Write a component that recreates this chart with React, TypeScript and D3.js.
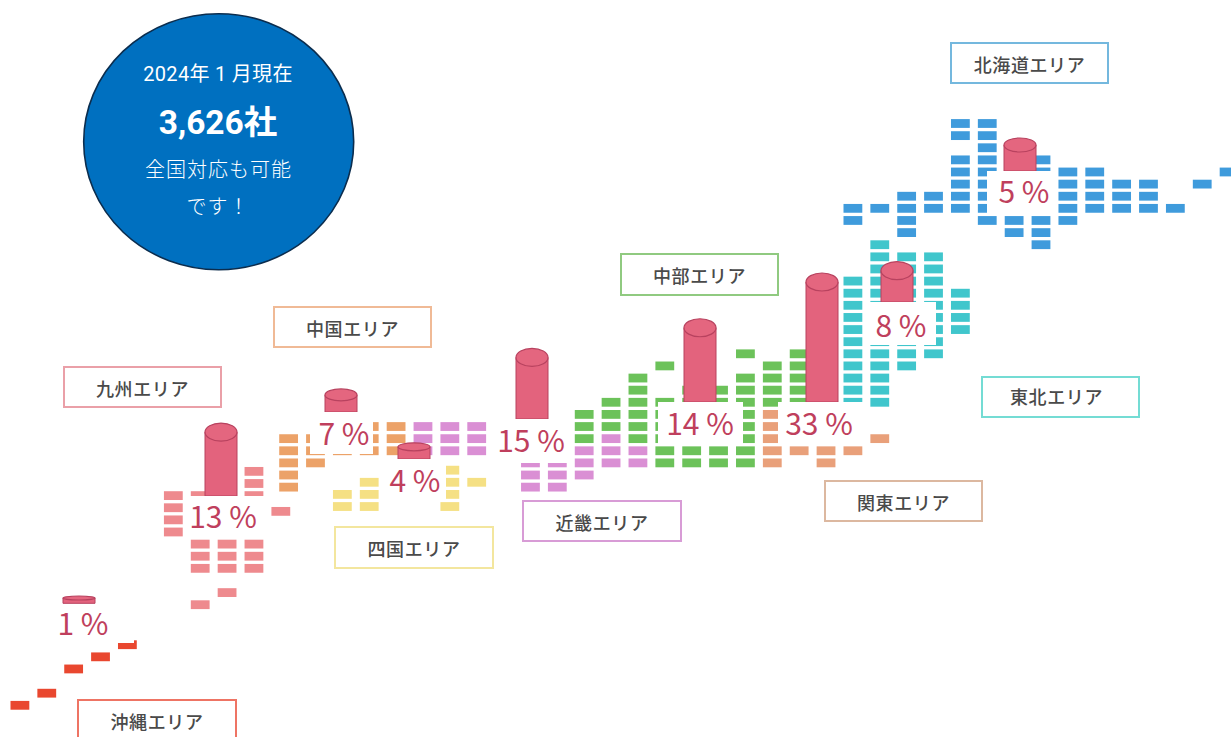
import React from "react";
import * as d3 from "d3";

// Share of registered companies by area, in percent.
const regionNames = ["北海道エリア", "東北エリア", "関東エリア", "中部エリア", "近畿エリア", "中国エリア", "四国エリア", "九州エリア", "沖縄エリア"];
const regionShares = [5, 8, 33, 14, 15, 7, 4, 13, 1];

const totalCompanies = "3,626社";
const badgeLines = ["2024年 1 月現在", "全国対応も可能", "です！"];

// Map tiles per area: [column, [rows...]] on the tile grid.
const hokkaidoTiles = [
  [31, [7, 8]], [32, [7]], [33, [6, 7, 8, 9]], [34, [6, 7]], [35, [0, 1, 3, 4, 5, 6, 7]],
  [36, [0, 1, 2, 3, 4, 5, 6, 7, 8]], [37, [3, 4, 5, 6, 7, 8, 9]], [38, [3, 4, 5, 6, 7, 8, 9, 10]],
  [39, [4, 5, 6, 7, 8]], [40, [4, 5, 6, 7]], [41, [5, 6, 7]], [42, [5, 6, 7]], [43, [7]], [44, [5]], [45, [4]],
];
const tohokuTiles = [
  [31, [13, 14, 15, 16, 17, 18, 19, 20, 21, 22, 23]],
  [32, [10, 11, 12, 13, 14, 15, 16, 17, 18, 19, 20, 21, 22, 23]],
  [33, [11, 12, 13, 14, 15, 16, 17, 18, 19, 20]],
  [34, [11, 12, 13, 14, 15, 16, 17, 18, 19]],
  [35, [14, 15, 16, 17]],
];
const kantoTiles = [
  [28, [24, 25, 26, 27, 28]], [29, [24, 25, 26, 27]], [30, [24, 25, 26, 27, 28]], [31, [24, 25, 26, 27]], [32, [26]],
];
const chubuTiles = [
  [21, [24, 25, 26]], [22, [23, 24, 25]], [23, [21, 22, 23, 24, 25, 26]],
  [24, [20, 23, 24, 25, 26, 27, 28]], [25, [22, 23, 24, 25, 26, 27, 28]], [26, [22, 23, 24, 25, 26, 27, 28]],
  [27, [19, 21, 22, 23, 24, 25, 26, 27, 28]], [28, [20, 21, 22, 23]], [29, [19, 20, 21, 22, 23]], [30, [19, 20, 21, 22, 23]],
];
const kinkiTiles = [
  [15, [25, 26, 27]], [16, [25, 26, 27]], [17, [25, 26, 27]], [18, [25, 26, 27]],
  [19, [28, 29, 30]], [20, [28, 29, 30]], [21, [27, 28, 29]], [22, [26, 27, 28]], [23, [27, 28]],
];
const chugokuTiles = [
  [10, [26, 27, 28, 29, 30]], [11, [26, 27, 28]], [12, [25, 26, 27]], [13, [25, 26, 27]], [14, [25, 26, 27]],
];
const shikokuTiles = [
  [12, [30, 31]], [13, [29, 30, 31]], [14, [28, 29, 30]], [15, [28, 29, 30]], [16, [28, 29, 30, 31]], [17, [29]],
];
const kyushuTiles = [
  [6, [30, 31, 32, 33]], [7, [30, 31, 32, 33, 34, 35, 36, 39]], [8, [30, 31, 32, 33, 34, 35, 36, 38]],
  [9, [28, 29, 30, 31, 32, 33, 34, 35, 36]], [10, [31.3]],
];
const okinawaTiles = [
  [0, [48]], [1, [47]], [2, [45]], [3, [44]], [4, [43]],
];

const regionTiles = [hokkaidoTiles, tohokuTiles, kantoTiles, chubuTiles, kinkiTiles, chugokuTiles, shikokuTiles, kyushuTiles, okinawaTiles];

// Presentation of each area, in the same order as regionNames.
const regionStyles = [
  { tile: "#3f9bdc", border: "#74b8de", dc: 0, dr: 0 },
  { tile: "#40c6cc", border: "#74dcd4", dc: 0, dr: 0 },
  { tile: "#e9a07a", border: "#dcb8a0", dc: 0, dr: 0 },
  { tile: "#6cc25a", border: "#90ca80", dc: 0, dr: 0 },
  { tile: "#da8fd4", border: "#d89cd6", dc: 0, dr: 0 },
  { tile: "#eca268", border: "#f0ba96", dc: 0, dr: 0 },
  { tile: "#f5e084", border: "#f3e69e", dc: 0, dr: 0.6 },
  { tile: "#ee8a8e", border: "#eaa0a8", dc: -0.29, dr: 0.7 },
  { tile: "#e9472f", border: "#ee7464", dc: 0, dr: 0 },
];

// Name tags [x, y, width, height].
const regionTags = [
  [951, 43, 157, 40], [982, 377, 157, 40], [825, 481, 157, 40], [621, 254, 157, 41], [523, 501, 158, 40],
  [274, 307, 157, 40], [335, 527, 158, 41], [64, 367, 157, 40], [78, 700, 158, 44],
];

// Tag text nudge [dx, dy] from the tag's centre.
const tagTextNudge = [
  [0, 2], [-4, 0], [0, 2], [0, 2], [0, 2], [0, 2], [0, 2], [0, 2], [0, 0],
];

// White plates behind the percentages [x, y, width, height].
const plates = [
  [987, 171, 65, 44], [870, 302, 66, 43], [778, 402, 85, 43], [658, 402, 85, 42], [493, 419, 75, 44],
  [310, 412, 63, 42], [380, 459, 66, 43], [186, 496, 79, 42], [50, 604, 84, 39],
];

// Percentage label centre x and baseline y.
const shareLabels = [
  [1024, 203], [901, 337], [819, 435], [700, 435], [531, 452], [344, 445], [415, 492], [223, 528], [83, 635],
];

// Cylinder centre x, the y of its foot (behind the plate) and the depth of its cap.
const cylinderFeet = [
  [1020, 171.5, 7], [897, 313, 9], [822, 457, 9], [700, 402, 9], [532, 437, 9], [341, 432, 6], [414, 468, 4], [221, 501, 9], [79, 603.3, 2],
];

const width = 1231;
const height = 737;
const tileW = 18.8;
const tileH = 8.8;
const colX = d3.scaleLinear().domain([0, 31]).range([10.5, 843.5]);
const rowY = d3.scaleLinear().domain([0, 19]).range([119.1, 349.4]);
const cylinderH = d3.scaleLinear().domain([0, 33]).range([0, 175]);

const cjk = "'Noto Sans CJK JP', sans-serif";
const latin = "Roboto, 'Noto Sans CJK JP', sans-serif";
const cylRx = 16;

export default function App() {
  return (
    <svg
      width={width}
      height={height}
      viewBox={`0 0 ${width} ${height}`}
      style={{ position: "fixed", left: 0, top: 0, display: "block", background: "#fff" }}
    >
      {regionTiles.map((tiles, i) =>
        tiles.flatMap(([col, rows]) =>
          (rows as number[]).map((row) => (
            <rect
              key={`${i}-${col}-${row}`}
              x={colX((col as number) + regionStyles[i].dc)}
              y={rowY(row + regionStyles[i].dr)}
              width={tileW}
              height={tileH}
              fill={regionStyles[i].tile}
            />
          ))
        )
      )}

      {regionShares.map((share, i) => {
        const [cx, foot, capRy] = cylinderFeet[i];
        const topY = foot - cylinderH(share);
        const bottom = Math.min(foot, plates[i][1]);
        return (
          <g key={`cyl-${i}`}>
            <path
              d={`M${cx - cylRx},${topY}V${bottom}H${cx + cylRx}V${topY}Z`}
              fill="#e3637d"
              stroke="#b8425f"
              strokeWidth={1}
            />
            <ellipse cx={cx} cy={topY} rx={cylRx} ry={capRy} fill="#e4667f" stroke="#b8425f" strokeWidth={1.2} />
          </g>
        );
      })}

      {plates.map(([x, y, w, h], i) => (
        <rect key={`plate-${i}`} x={x} y={y} width={w} height={h} fill="#fff" />
      ))}

      {regionShares.map((share, i) => (
        <text
          key={`share-${i}`}
          x={shareLabels[i][0]}
          y={shareLabels[i][1]}
          textAnchor="middle"
          fontFamily={cjk}
          fontSize={30}
          fill="#bf3f5d"
        >
          {`${share} %`}
        </text>
      ))}

      {regionNames.map((name, i) => {
        const [x, y, w, h] = regionTags[i];
        return (
          <g key={name}>
            <rect x={x} y={y} width={w} height={h} fill="#fff" stroke={regionStyles[i].border} strokeWidth={2} />
            <text
              x={x + w / 2 + tagTextNudge[i][0]}
              y={y + h / 2 + 6.5 + tagTextNudge[i][1]}
              textAnchor="middle"
              fontFamily={cjk}
              fontSize={18}
              fontWeight={500}
              letterSpacing={0.6}
              fill="#4a4a4a"
            >
              {name}
            </text>
          </g>
        );
      })}

      <ellipse cx={218.7} cy={141.7} rx={135} ry={128} fill="#0070c0" stroke="#0b2d4e" strokeWidth={1.6} />
      <text x={218} y={81} textAnchor="middle" fontFamily={latin} fontSize={20} letterSpacing={0.3} fill="#fff">
        {badgeLines[0]}
      </text>
      <text x={218} y={134} textAnchor="middle" fontFamily={latin} fontSize={33.5} fontWeight={700} fill="#fff">
        {totalCompanies}
      </text>
      <text x={218.5} y={177} textAnchor="middle" fontFamily={cjk} fontSize={20} letterSpacing={1} fill="#fff" fontWeight={300}>
        {badgeLines[1]}
      </text>
      <text x={218} y={213.5} textAnchor="middle" fontFamily={cjk} fontSize={20} letterSpacing={1} fill="#fff" fontWeight={300}>
        {badgeLines[2]}
      </text>
    </svg>
  );
}
